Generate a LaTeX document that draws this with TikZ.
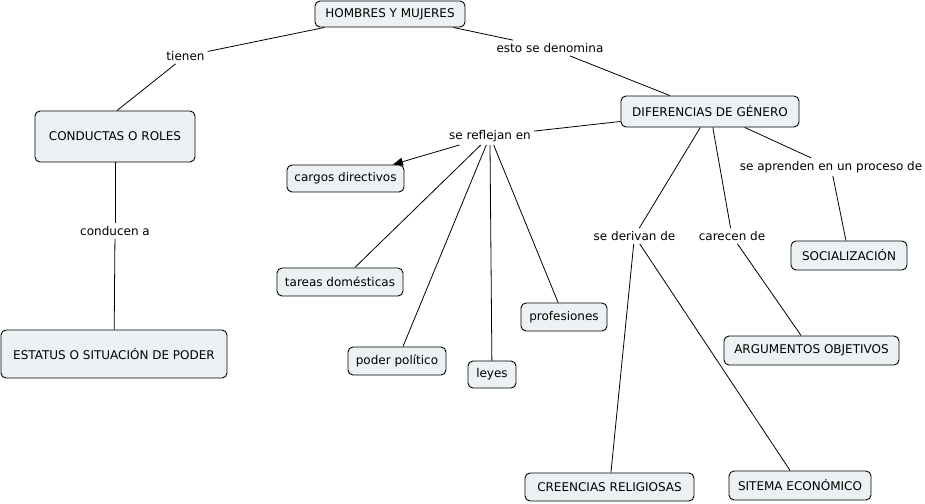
\documentclass[tikz,border=0pt]{standalone}
\usepackage{fontspec}
\setmainfont{DejaVu Sans}
\usetikzlibrary{arrows.meta}
\definecolor{boxfill}{HTML}{ECF2F4}
\tikzset{
  concept/.style={draw=black, line width=0.9pt, fill=boxfill, rounded corners=5pt,
    inner xsep=3pt, inner ysep=0pt, align=center, font=\fontsize{12}{14}\selectfont},
  linklabel/.style={inner sep=3pt, font=\fontsize{12}{14}\selectfont},
  conn/.style={draw=black, line width=0.8pt},
  arr/.style={conn, -{Triangle[length=10pt,width=8pt]}}
}
\begin{document}
\begin{tikzpicture}[x=1pt,y=-1pt]
\useasboundingbox (0,0) rectangle (925,503);
% concepts
\node[concept, minimum width=150, minimum height=26] (hom) at (390,14) {HOMBRES Y MUJERES};
\node[concept, minimum width=160, minimum height=51] (con) at (115,136.5) {CONDUCTAS O ROLES};
\node[concept, minimum width=226, minimum height=48] (est) at (114,354) {ESTATUS O SITUACIÓN DE PODER};
\node[concept, minimum width=178, minimum height=31] (dif) at (710,111.5) {DIFERENCIAS DE GÉNERO};
\node[concept, minimum width=117, minimum height=27] (car) at (345.5,178.5) {cargos directivos};
\node[concept, minimum width=126, minimum height=28] (tar) at (340,282) {tareas domésticas};
\node[concept, minimum width=98, minimum height=28] (pod) at (397,361) {poder político};
\node[concept, minimum width=48, minimum height=27] (ley) at (492,374.5) {leyes};
\node[concept, minimum width=86, minimum height=28] (pro) at (564,317) {profesiones};
\node[concept, minimum width=116, minimum height=29] (soc) at (849,255.5) {SOCIALIZACIÓN};
\node[concept, minimum width=175, minimum height=29] (arg) at (811.5,350.5) {ARGUMENTOS OBJETIVOS};
\node[concept, minimum width=169, minimum height=28] (cre) at (609.5,487) {CREENCIAS RELIGIOSAS};
\node[concept, minimum width=142, minimum height=29] (sis) at (800,485.5) {SITEMA ECONÓMICO};
% linking phrases
\node[linklabel] (tie) at (185.5,56) {tienen};
\node[linklabel] (esd) at (550,48) {esto se denomina};
\node[linklabel] (cdn) at (115,231) {conducen a};
\node[linklabel] (sre) at (490,136) {se reflejan en};
\node[linklabel] (sap) at (831,167) {se aprenden en un proceso de};
\node[linklabel] (sde) at (634.5,236) {se derivan de};
\node[linklabel] (cca) at (732,236) {carecen de};
% connectors
\draw[conn] (hom) -- (tie);
\draw[conn] (tie) -- ([xshift=2pt]con.north);
\draw[conn] (hom) -- (esd);
\draw[conn] (esd) -- (dif);
\draw[conn] (con) -- (cdn);
\draw[conn] (cdn) -- (est);
\draw[conn] (dif) -- (sre);
\draw[arr] (sre) -- (car);
\draw[conn] (sre) -- (tar);
\draw[conn] (sre) -- (pod);
\draw[conn] (sre.south) -- (ley);
\draw[conn] (sre) -- (pro);
\draw[conn] (dif) -- (sde);
\draw[conn] (sde) -- (cre);
\draw[conn] (sde) -- (sis);
\draw[conn] (dif) -- (cca);
\draw[conn] (cca) -- (arg);
\draw[conn] (dif) -- (sap);
\draw[conn] (sap) -- (soc);
\end{tikzpicture}
\end{document}
